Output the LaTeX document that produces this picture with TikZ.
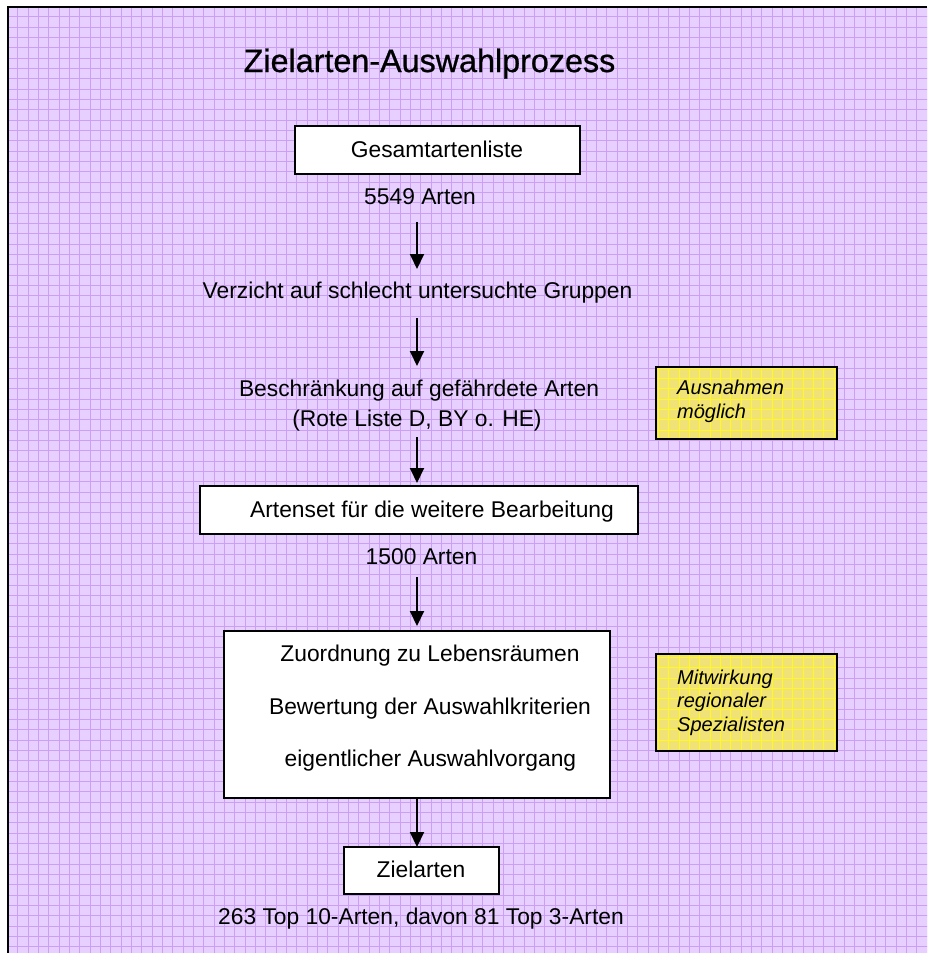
\documentclass[tikz,border=0pt]{standalone}
\usepackage{fontspec}
\setmainfont{Liberation Sans}
\newfontfamily\titlefont{Liberation Sans}[FakeBold=0.8]
\usetikzlibrary{arrows.meta}
\definecolor{bgpurple}{RGB}{231,208,255}
\definecolor{gridpurple}{RGB}{203,160,244}
\definecolor{notefill}{RGB}{240,226,118}
\definecolor{notegrid}{RGB}{255,248,40}
\newcommand\mygridlines[2]{%
  \foreach \i in {1,...,90} \draw[#1, line width=#2] ({7.5+10.33*\i},6.5) -- ++(0,950);
  \foreach \i in {1,...,93} \draw[#1, line width=#2] (7.5,{6.5+10.33*\i}) -- ++(925,0);
}
\tikzset{
  box/.style={draw=black, line width=1.6pt, fill=white, inner sep=0pt, outer sep=0pt},
  note/.style={fill=notefill, inner sep=0pt, outer sep=0pt},
  txt/.style={inner sep=0pt, anchor=base, font=\fontsize{22.8}{27}\selectfont},
  ntxt/.style={inner sep=0pt, anchor=base west, font=\fontsize{20}{24}\selectfont\itshape},
  arr/.style={line width=2pt, -{Triangle[length=15pt,width=14pt]}},
}
\begin{document}
\begin{tikzpicture}[x=1pt,y=-1pt]
\useasboundingbox (0,0) rectangle (927,953);
% background
\fill[bgpurple] (7.5,6.5) rectangle (927,953);
\begin{scope}
  \clip (7.5,6.5) rectangle (927,953);
  \mygridlines{gridpurple}{0.7pt}
\end{scope}
\draw[line width=2pt] (7.5,953) -- (7.5,6.5) -- (927,6.5);

% title
\node[txt, font=\titlefont\fontsize{32.3}{38}\selectfont] (title) at (429.5,72) {Zielarten-Auswahlprozess};

% boxes
\node[box, minimum width=285, minimum height=48] (gesamt) at (437.5,150) {};
\node[box, minimum width=438, minimum height=48] (artenset) at (419,510) {};
\node[box, minimum width=386, minimum height=167] (big) at (417,714.5) {};
\node[box, minimum width=155, minimum height=47] (ziel) at (421.5,870.5) {};

% texts
\node[txt] (tgesamt) at (437,157) {Gesamtartenliste};
\node[txt] (t5549) at (420,204) {5549 Arten};
\node[txt] (tverz) at (417.5,298) {Verzicht auf schlecht untersuchte Gruppen};
\node[txt] (tbesch) at (419,396) {Beschränkung auf gefährdete Arten};
\node[txt] (trote) at (417,426) {(Rote Liste D, BY o. HE)};
\node[txt] (tartenset) at (432,517) {Artenset für die weitere Bearbeitung};
\node[txt] (t1500) at (421.5,564) {1500 Arten};
\node[txt] (tzuord) at (430,661.7) {Zuordnung zu Lebensräumen};
\node[txt] (tbew) at (430,714) {Bewertung der Auswahlkriterien};
\node[txt] (teig) at (430.5,766.7) {eigentlicher Auswahlvorgang};
\node[txt] (tziel) at (421,877) {Zielarten};
\node[txt] (t263) at (421,924) {263 Top 10-Arten, davon 81 Top 3-Arten};

% notes
\node[note, minimum width=181, minimum height=72] (n1) at (746.5,403) {};
\node[note, minimum width=181, minimum height=97] (n2) at (746.5,702.5) {};
\begin{scope}
  \clip (n1.north west) rectangle (n1.south east);
  \mygridlines{notegrid}{0.8pt}
\end{scope}
\begin{scope}
  \clip (n2.north west) rectangle (n2.south east);
  \mygridlines{notegrid}{0.8pt}
\end{scope}
\draw[line width=1.8pt] (n1.north west) rectangle (n1.south east);
\draw[line width=1.8pt] (n2.north west) rectangle (n2.south east);
\node[ntxt] (n1a) at (677,394.3) {Ausnahmen};
\node[ntxt] (n1b) at (677,418.3) {möglich};
\node[ntxt] (n2a) at (677,684) {Mitwirkung};
\node[ntxt] (n2b) at (677,707.7) {regionaler};
\node[ntxt] (n2c) at (677,731.3) {Spezialisten};

% arrows
\coordinate (a1s) at (417,222);
\coordinate (a1e) at (417,269);
\coordinate (a2s) at (417,318);
\coordinate (a2e) at (417,366);
\coordinate (a3s) at (417,437);
\coordinate (a3e) at (417,483);
\coordinate (a4s) at (417,577);
\coordinate (a4e) at (417,626);
\draw[arr] (a1s) -- (a1e);
\draw[arr] (a2s) -- (a2e);
\draw[arr] (a3s) -- (a3e);
\draw[arr] (a4s) -- (a4e);
\draw[arr] (big.south) -- (big.south |- ziel.north);
\end{tikzpicture}
\end{document}
